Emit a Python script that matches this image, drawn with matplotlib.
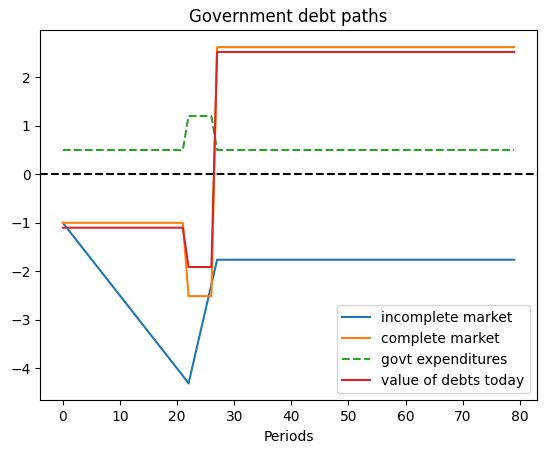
import matplotlib
matplotlib.use("Agg")
import matplotlib.pyplot as plt
import numpy as np

# values, periods 0..79
periods = np.arange(80)

incomplete_ramp = [-1.00, -1.15, -1.30, -1.45, -1.60, -1.75, -1.90, -2.05,
                   -2.20, -2.35, -2.50, -2.65, -2.80, -2.95, -3.10, -3.25,
                   -3.40, -3.55, -3.70, -3.85, -4.00, -4.15, -4.31,
                   -3.80, -3.29, -2.78, -2.27]
incomplete = incomplete_ramp + [-1.76] * 53
complete = [-1.0] * 22 + [-2.51] * 5 + [2.62] * 53
govt_exp = [0.5] * 22 + [1.2] * 5 + [0.5] * 53
debt_value = [-1.1] * 22 + [-1.91] * 5 + [2.52] * 53

fig = plt.figure(figsize=(5.46, 4.53), dpi=100)
ax = fig.add_axes([0.0738, 0.1163, 0.9092, 0.8168])
ax.plot(periods, incomplete, label="incomplete market")
ax.plot(periods, complete, label="complete market")
ax.plot(periods, govt_exp, "--", label="govt expenditures")
ax.plot(periods, debt_value, label="value of debts today")
ax.axhline(0, color="k", linestyle="--")
ax.set_title("Government debt paths")
ax.set_xlabel("Periods")
ax.legend(loc="lower right")

plt.savefig("out.png", dpi=100)
